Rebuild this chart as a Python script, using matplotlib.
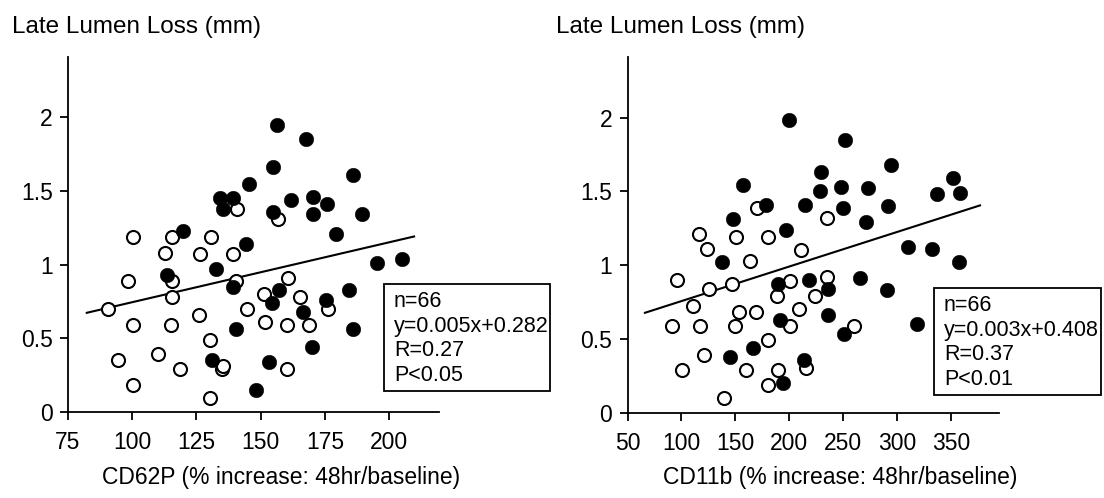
import matplotlib
matplotlib.use("Agg")
import matplotlib.pyplot as plt
from matplotlib.patches import Rectangle

plt.rcParams['font.family'] = ['Liberation Sans', 'DejaVu Sans']

W, H = 1104, 498

# --- CD62P panel (left) ---
cd62p_filled_x = [156.3, 167.6, 154.8, 145.4, 185.9, 161.8, 170.3, 175.8, 154.8, 170.3,
                  189.4, 179.3, 144.3, 134.1, 139.2, 135.3, 119.7, 132.6, 113.6, 139.2,
                  140.4, 131.0, 195.2, 205.0, 157.1, 154.4, 175.4, 166.4, 184.3, 185.9,
                  169.9, 153.2, 148.2]
cd62p_filled_y = [1.95, 1.85, 1.66, 1.55, 1.61, 1.44, 1.46, 1.41, 1.36, 1.34,
                  1.34, 1.21, 1.14, 1.45, 1.45, 1.38, 1.23, 0.97, 0.93, 0.85,
                  0.56, 0.35, 1.01, 1.04, 0.83, 0.74, 0.76, 0.68, 0.83, 0.56,
                  0.44, 0.34, 0.15]
cd62p_open_x = [156.7, 140.8, 100.3, 115.5, 130.6, 112.7, 126.4, 139.2, 98.3, 115.5,
                140.4, 115.5, 90.6, 100.3, 115.1, 126.0, 130.3, 110.0, 94.5, 134.9,
                118.6, 100.3, 130.3, 160.6, 151.3, 144.6, 165.2, 176.2, 151.7, 160.2,
                168.8, 160.2, 135.3]
cd62p_open_y = [1.31, 1.38, 1.19, 1.19, 1.19, 1.08, 1.07, 1.07, 0.89, 0.89,
                0.89, 0.78, 0.70, 0.59, 0.59, 0.66, 0.49, 0.39, 0.35, 0.29,
                0.29, 0.18, 0.09, 0.91, 0.80, 0.70, 0.78, 0.70, 0.61, 0.59,
                0.59, 0.29, 0.31]
cd62p_fit = (0.00407, 0.337)       # slope, intercept as drawn
cd62p_fit_range = (82.3, 209.7)
cd62p_stats = ["n=66", "y=0.005x+0.282", "R=0.27", "P<0.05"]

# --- CD11b panel (right) ---
cd11b_filled_x = [157.4, 178.7, 148.1, 200.0, 251.9, 294.4, 229.6, 351.9, 248.1, 228.7,
                  273.1, 337.0, 358.3, 214.8, 250.0, 291.7, 271.3, 197.2, 138.0, 189.5,
                  191.5, 166.7, 145.4, 194.0, 310.2, 332.4, 357.4, 218.5, 236.1, 265.7,
                  290.7, 236.1, 318.5, 250.9, 213.9]
cd11b_filled_y = [1.54, 1.41, 1.31, 1.98, 1.85, 1.68, 1.63, 1.59, 1.53, 1.50,
                  1.52, 1.48, 1.49, 1.41, 1.39, 1.40, 1.29, 1.24, 1.02, 0.87,
                  0.63, 0.44, 0.38, 0.20, 1.12, 1.11, 1.02, 0.90, 0.84, 0.91,
                  0.83, 0.66, 0.60, 0.53, 0.36]
cd11b_open_x = [170.4, 116.7, 124.0, 150.9, 180.6, 235.2, 163.9, 96.3, 125.9, 147.2,
                188.9, 111.1, 153.7, 169.4, 91.7, 117.6, 150.0, 180.6, 121.3, 100.9,
                160.2, 189.8, 180.6, 139.8, 211.1, 200.9, 235.2, 224.1, 209.3, 200.9,
                260.2, 215.7]
cd11b_open_y = [1.39, 1.21, 1.11, 1.19, 1.19, 1.32, 1.03, 0.90, 0.84, 0.87,
                0.79, 0.72, 0.68, 0.68, 0.59, 0.59, 0.59, 0.49, 0.39, 0.29,
                0.29, 0.29, 0.19, 0.10, 1.10, 0.89, 0.92, 0.79, 0.70, 0.59,
                0.59, 0.30]
cd11b_fit = (0.00234, 0.522)
cd11b_fit_range = (66.2, 377.2)
cd11b_stats = ["n=66", "y=0.003x+0.408", "R=0.37", "P<0.01"]

ytick_vals = [0, 0.5, 1, 1.5, 2]
ytick_labels = ["0", "0.5", "1", "1.5", "2"]


def fx(px):
    return px / W


def fy(py):
    return 1 - py / H


def panel(fig, rect, xlim, xticks, fx_, fy_, ox, oy, fit, fit_range):
    ax = fig.add_axes(rect)
    ax.scatter(ox, oy, s=88, facecolors='white', edgecolors='black', linewidths=1.5, zorder=3)
    ax.scatter(fx_, fy_, s=110, facecolors='black', edgecolors='black', linewidths=0.3, zorder=4)
    xs = list(fit_range)
    ax.plot(xs, [fit[0] * v + fit[1] for v in xs], color='black', lw=1.5, zorder=2)
    ax.set_xlim(*xlim)
    ax.set_ylim(0, 2.41)
    ax.set_xticks(xticks)
    ax.set_yticks(ytick_vals)
    ax.set_yticklabels(ytick_labels)
    for s in ['top', 'right']:
        ax.spines[s].set_visible(False)
    for s in ['left', 'bottom']:
        ax.spines[s].set_linewidth(1.3)
    ax.tick_params(direction='out', length=6, width=1.3, labelsize=16.5)
    ax.tick_params(axis='x', pad=8)
    ax.tick_params(axis='y', pad=5)
    return ax


def stats_box(fig, x0, y0, x1, y1, lines):
    fig.patches.append(Rectangle((fx(x0), fy(y1)), fx(x1) - fx(x0), fy(y0) - fy(y1),
                                 transform=fig.transFigure, fill=False,
                                 edgecolor='black', lw=1.3))
    for i, t in enumerate(lines):
        fig.text(fx(x0 + 10), fy(y0 + 23 + 24.7 * i), t, fontsize=15.5, va='baseline', ha='left')


fig = plt.figure(figsize=(W / 100, H / 100), dpi=100)

ax1 = panel(fig, [fx(68), fy(411.7), fx(439) - fx(68), fy(57) - fy(411.7)],
            (75, 219.4), [75, 100, 125, 150, 175, 200],
            cd62p_filled_x, cd62p_filled_y, cd62p_open_x, cd62p_open_y,
            cd62p_fit, cd62p_fit_range)
ax2 = panel(fig, [fx(627.5), fy(412.7), fx(999) - fx(627.5), fy(57) - fy(412.7)],
            (50, 394.8), [50, 100, 150, 200, 250, 300, 350],
            cd11b_filled_x, cd11b_filled_y, cd11b_open_x, cd11b_open_y,
            cd11b_fit, cd11b_fit_range)

stats_box(fig, 384, 284, 550, 391, cd62p_stats)
stats_box(fig, 934, 288, 1101, 395, cd11b_stats)

fig.text(fx(12), fy(33), "Late Lumen Loss (mm)", fontsize=17.5, va='baseline', ha='left')
fig.text(fx(556), fy(33), "Late Lumen Loss (mm)", fontsize=17.5, va='baseline', ha='left')
fig.text(fx(281), fy(484), "CD62P (% increase: 48hr/baseline)", fontsize=16.5, va='baseline', ha='center')
fig.text(fx(840), fy(484), "CD11b (% increase: 48hr/baseline)", fontsize=16.5, va='baseline', ha='center')

fig.savefig("out.png", dpi=100)
